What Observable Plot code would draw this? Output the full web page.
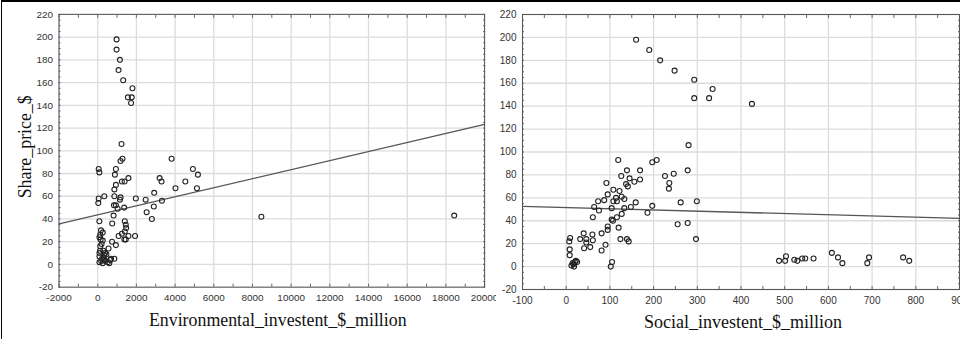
<!DOCTYPE html>
<html><head><meta charset="utf-8">
<script src="https://cdn.jsdelivr.net/npm/d3@7"></script>
<script src="https://cdn.jsdelivr.net/npm/@observablehq/plot@0.6"></script>
<style>
html,body{margin:0;padding:0;background:#fff;}
#wrap{position:relative;width:960px;height:339px;overflow:hidden;background:#fff;}
#border{position:absolute;left:1px;top:0;width:970px;height:345px;border-top:2px solid #000;border-left:1.5px solid #000;pointer-events:none;}
#left{position:absolute;left:0;top:0;width:496px;height:339px;overflow:hidden;}
#right{position:absolute;left:480px;top:0;width:480px;height:339px;overflow:hidden;}
</style></head>
<body>
<div id="wrap"><div id="left"></div><div id="right"></div><div id="border"></div></div>
<script>
// Left panel: Environmental investment vs share price
const envX = [975,975,1148,1077,1318,1795,1559,1761,1726,
  50,85,50,30,340,85,1230,1280,1180,940,890,1590,1250,1390,940,860,860,1180,1150,840,940,1030,1370,820,750,1400,1450,1470,1400,1250,1080,1590,1930,1380,1450,940,
  3820,4920,5180,3200,3300,4530,4020,5130,2920,1970,2480,3320,2900,2530,2800,8460,18430,
  170,130,260,90,260,130,290,90,340,90,220,340,90,260,600,690,860,560,740,150,200,300,400,450,180,120,650,520,380];
const envY = [198,189,180,171,162,155,147,147,142,
  84,81,58,54,60,38,106,93,91,84,79,76,73,73,70,66,60,59,57,52,52,49,50,43,36,38,35,32,29,27,25,25,25,22,22,17,
  93,84,79,76,73,73,67,67,63,58,57,56,51,46,40,42,43,
  30,26,28,24,21,16,12,10,8,7,5,4,2,1,1,5,5,14,20,22,18,6,3,9,3,12,4,2,10];
const envLineX = [-2000, 20000];
const envLineY = [35.6, 123.2];
const envTicks = [-2000,0,2000,4000,6000,8000,10000,12000,14000,16000,18000,20000];

// Right panel: Social investment vs share price
const socX = [160,190,215,248,293,335,293,327,425,280,119,207,197,139,169,278,246,226,126,145,169,156,92,236,137,141,108,122,235,95,127,114,133,73,87,108,116,262,299,159,197,64,104,148,133,75,186,127,116,61,104,107,255,278,95,95,120,40,60,81,9,32,46,61,7,124,139,143,297,46,90,41,55,8,8,81,105,102,
  12,17,20,22,25,18,15,
  487,501,503,522,529,540,547,566,608,622,632,689,693,771,785];
const socY = [198,189,180,171,163,155,147,147,142,106,93,93,91,84,84,84,81,79,79,77,76,74,73,73,72,70,67,66,68,63,61,60,59,57,58,57,57,56,57,56,53,52,51,52,51,49,47,46,43,43,41,40,37,38,35,32,34,29,28,29,25,24,24,23,22,24,24,22,24,21,19,16,17,15,10,14,4,0,
  1,2,4,5,4,0,3,
  5,5,9,6,5,7,7,7,12,8,3,3,8,8,5];
const socLineX = [-100, 900];
const socLineY = [52.6, 42];
const socTicks = [-100,0,100,200,300,400,500,600,700,800,900];

const yTicks = [-20,0,20,40,60,80,100,120,140,160,180,200,220];
const yLabel = "Share_price_$";
const xLabelL = "Environmental_investent_$_million";
const xLabelR = "Social_investent_$_million";

const baseStyle = {fontFamily:"'Liberation Sans', Arial, sans-serif", fontSize:"10px", color:"#333", background:"transparent", overflow:"visible"};
const serif = "'Liberation Serif', 'Times New Roman', serif";
const plain = d => String(d);

function panel({xs, ys, lx, ly, xDomain, xTicks, xMinor, width, marginLeft, marginRight, xLabel, labelDx, withY}) {
  const marks = [
    Plot.gridX({ticks: xTicks, stroke:"#dcdcdc", strokeOpacity:1, strokeWidth:1.3}),
    Plot.gridY({ticks: yTicks, stroke:"#dcdcdc", strokeOpacity:1, strokeWidth:1.3}),
    Plot.axisX({anchor:"top", ticks: xMinor, tickSize:-3, tickFormat: () => "", label:null, stroke:"#666"}),
    Plot.axisX({anchor:"bottom", ticks: xMinor, tickSize:-3, tickFormat: () => "", label:null, stroke:"#666"}),
    Plot.axisY({anchor:"left", ticks: d3.range(-20,221,5), tickSize:-2, tickFormat: () => "", label:null, stroke:"#666"}),
    Plot.axisY({anchor:"right", ticks: d3.range(-20,221,5), tickSize:-2, tickFormat: () => "", label:null, stroke:"#666"}),
    Plot.axisX({anchor:"bottom", ticks: xTicks, tickFormat: plain, tickSize:0, tickPadding:7, label:null, fill:"#333"}),
    Plot.axisY({anchor:"left", ticks: yTicks, tickFormat: plain, tickSize:0, tickPadding:6, label:null, fill:"#333"}),
    Plot.frame({stroke:"#555", strokeWidth:1}),
    Plot.line(lx.map((x,i)=>({x, y: ly[i]})), {x:"x", y:"y", stroke:"#555", strokeWidth:1.3}),
    Plot.dot(xs.map((x,i)=>({x, y: ys[i]})), {x:"x", y:"y", r:2.5, stroke:"#222", strokeWidth:1.1, fill:"none"}),
    Plot.text([xLabel], {text: d=>d, frameAnchor:"bottom", lineAnchor:"middle", dy:33, dx:labelDx, fontFamily:serif, fontSize:18, fill:"#111"})
  ];
  if (withY) marks.push(Plot.text([yLabel], {text: d=>d, frameAnchor:"left", textAnchor:"middle", lineAnchor:"middle", dx:-34, dy:-4, rotate:-90, fontFamily:serif, fontSize:18, fill:"#111"}));
  return Plot.plot({
    width, height:339, marginLeft, marginRight, marginTop:14, marginBottom:50,
    x:{domain:xDomain}, y:{domain:[-20,220]},
    style: baseStyle,
    marks
  });
}

document.getElementById("left").appendChild(panel({
  xs: envX, ys: envY, lx: envLineX, ly: envLineY, xDomain:[-2000,20000], xTicks: envTicks,
  xMinor: d3.range(-2000,20001,1000), width:500, marginLeft:59, marginRight:12,
  xLabel: xLabelL, labelDx:6, withY:true
}));
document.getElementById("right").appendChild(panel({
  xs: socX, ys: socY, lx: socLineX, ly: socLineY, xDomain:[-100,900], xTicks: socTicks,
  xMinor: d3.range(-100,901,50), width:480, marginLeft:42, marginRight:1,
  xLabel: xLabelR, labelDx:2, withY:false
}));
</script>
</body></html>
